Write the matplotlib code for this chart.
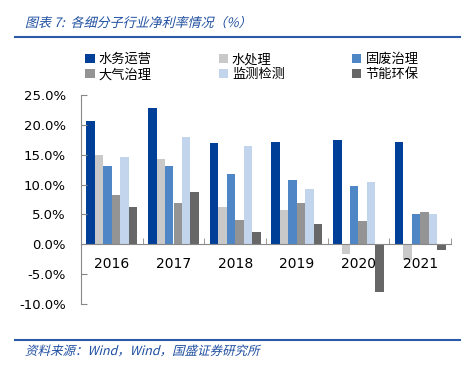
import matplotlib.pyplot as plt
import numpy as np
from matplotlib.lines import Line2D
from matplotlib.textpath import TextPath
from matplotlib.patches import PathPatch
from matplotlib.font_manager import FontProperties
from matplotlib.transforms import Affine2D

plt.rcParams['font.family'] = ['DejaVu Sans', 'Noto Sans CJK SC']

years = ['2016', '2017', '2018', '2019', '2020', '2021']
series_names = ['水务运营', '水处理', '固废治理', '大气治理', '监测检测', '节能环保']
water_ops = [20.6, 22.8, 16.9, 17.1, 17.4, 17.1]
water_treat = [15.0, 14.2, 6.3, 5.8, -1.7, -2.7]
solid_waste = [13.1, 13.1, 11.8, 10.8, 9.7, 5.1]
air = [8.3, 6.9, 4.0, 6.9, 3.9, 5.4]
monitoring = [14.7, 17.9, 16.4, 9.3, 10.4, 5.1]
energy = [6.2, 8.8, 2.0, 3.4, -8.0, -1.0]
colors = ['#003f98', '#c9c9c9', '#4f86c6', '#949494', '#c3d5ec', '#676767']

all_series = [water_ops, water_treat, solid_waste, air, monitoring, energy]

fig = plt.figure(figsize=(4.68, 3.72), dpi=100)
ax = fig.add_axes([81 / 468, 1 - 304 / 372, 370 / 468, 209 / 372])

x = np.arange(len(years))
w = 0.137
bars = []
for i, vals in enumerate(all_series):
    b = ax.bar(x + (i - 2.5) * w, vals, width=w, color=colors[i], label=series_names[i])
    bars.append(b)

ax.set_xlim(-0.5, len(years) - 0.5)
ax.set_ylim(-10, 25)
ax.set_yticks(np.arange(-10, 26, 5))
ax.set_yticklabels([f'{v:.1f}%' for v in np.arange(-10, 26, 5)], fontsize=9.5)
ax.set_xticks(x)
ax.set_xticklabels(years, fontsize=9.5)
ax.set_xticks(np.arange(len(years) + 1) - 0.5, minor=True)
ax.tick_params(axis='x', which='major', length=0, pad=9)
ax.tick_params(axis='x', which='minor', direction='in', length=4, color='#888888')
ax.tick_params(axis='y', direction='in', length=4, color='#888888', pad=11)

for s in ['top', 'right']:
    ax.spines[s].set_visible(False)
ax.spines['bottom'].set_position(('data', 0))
ax.spines['bottom'].set_color('#888888')
ax.spines['left'].set_color('#888888')

# legend fills by column, so reorder to read row by row
order = [0, 3, 1, 4, 2, 5]
fig.legend(handles=[bars[i] for i in order], labels=[series_names[i] for i in order],
           ncol=3, loc='upper left',
           bbox_to_anchor=(80 / 468, 1 - 48 / 372), frameon=False,
           prop={'family': 'Noto Sans CJK SC', 'size': 9.5},
           handlelength=0.7, handleheight=0.7, handletextpad=0.3,
           columnspacing=5.1, labelspacing=0.15, borderaxespad=0)


def slanted_text(s, x_px, y_px, size_px, color):
    # fake italic for CJK text by skewing the glyph outlines
    tp = TextPath((0, 0), s, size=size_px, prop=FontProperties(family='Noto Sans CJK SC'))
    tr = Affine2D().skew_deg(14, 0).translate(x_px, y_px)
    fig.add_artist(PathPatch(tp, transform=tr, color=color, lw=0))


blue = '#1f4fa0'
slanted_text('图表 7:  各细分子行业净利率情况（%）', 25, 372 - 27, 13, blue)
slanted_text('资料来源：Wind，Wind，国盛证券研究所', 25, 372 - 355, 12.5, blue)
fig.add_artist(Line2D([15 / 468, 460 / 468], [1 - 37 / 372, 1 - 37 / 372],
                      color='#2a5aa8', lw=1.5, transform=fig.transFigure))
fig.add_artist(Line2D([15 / 468, 460 / 468], [1 - 340 / 372, 1 - 340 / 372],
                      color='#2a5aa8', lw=1.5, transform=fig.transFigure))

plt.savefig('out.png', dpi=100)
